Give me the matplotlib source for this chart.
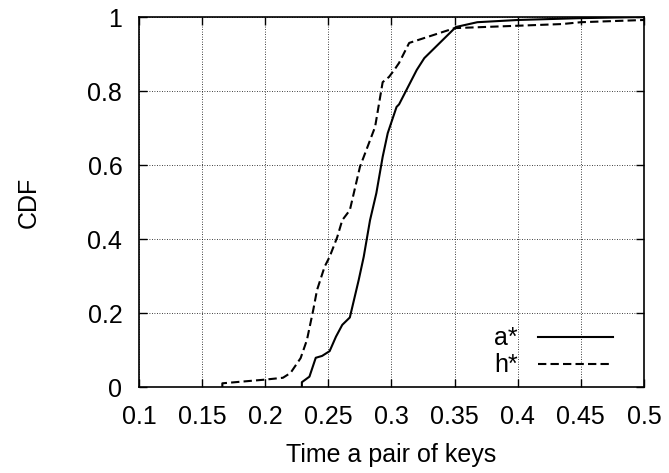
import matplotlib.pyplot as plt
import numpy as np

plt.rcParams['font.family'] = ['Liberation Sans', 'DejaVu Sans']
plt.rcParams['font.size'] = 18

# CDF points
a_x = [0.229, 0.229, 0.235, 0.240, 0.245, 0.251, 0.256, 0.261, 0.267, 0.274, 0.278,
       0.283, 0.288, 0.293, 0.297, 0.304, 0.306, 0.320, 0.326, 0.351, 0.368, 0.400,
       0.450, 0.500]
a_y = [0.0, 0.013, 0.028, 0.079, 0.084, 0.097, 0.136, 0.168, 0.188, 0.289, 0.352,
       0.451, 0.524, 0.622, 0.686, 0.757, 0.764, 0.857, 0.889, 0.973, 0.986, 0.992,
       0.997, 1.0]

h_x = [0.166, 0.166, 0.200, 0.214, 0.220, 0.228, 0.233, 0.238, 0.241, 0.247, 0.251,
       0.257, 0.261, 0.267, 0.275, 0.287, 0.293, 0.298, 0.302, 0.306, 0.314, 0.350,
       0.435, 0.450, 0.500]
h_y = [0.0, 0.010, 0.020, 0.025, 0.038, 0.078, 0.127, 0.208, 0.262, 0.325, 0.352,
       0.405, 0.451, 0.478, 0.595, 0.703, 0.824, 0.838, 0.856, 0.876, 0.930, 0.970,
       0.981, 0.986, 0.992]

x_ticks = [0.1, 0.15, 0.2, 0.25, 0.3, 0.35, 0.4, 0.45, 0.5]
x_labels = ['0.1', '0.15', '0.2', '0.25', '0.3', '0.35', '0.4', '0.45', '0.5']
y_ticks = [0, 0.2, 0.4, 0.6, 0.8, 1]
y_labels = ['0', '0.2', '0.4', '0.6', '0.8', '1']

fig = plt.figure(figsize=(6.69, 4.73), dpi=100)
ax = fig.add_axes([0.2078, 0.1818, 0.7548, 0.7822])

ax.plot(a_x, a_y, color='black', linestyle='-', linewidth=1.5, label='a*')
ax.plot(h_x, h_y, color='black', linestyle=(0, (4, 2)), linewidth=1.5, label='h*')

ax.set_xlim(0.1, 0.5)
ax.set_ylim(0, 1)
ax.set_xticks(x_ticks)
ax.set_xticklabels(x_labels)
ax.set_yticks(y_ticks)
ax.set_yticklabels(y_labels)
ax.tick_params(direction='in', length=6, width=1, top=True, right=True)
ax.tick_params(axis='x', pad=13)
ax.tick_params(axis='y', pad=12)
ax.grid(True, color='black', linestyle=(0, (1, 2)), linewidth=0.6)
for s in ax.spines.values():
    s.set_linewidth(1.2)

ax.set_xlabel('Time a pair of keys', labelpad=10)
ax.set_ylabel('CDF', labelpad=34)

ax.legend(loc='lower right', frameon=False, markerfirst=False, handlelength=3.0,
          handletextpad=0.8, labelspacing=0.12, borderaxespad=0, borderpad=0,
          bbox_to_anchor=(0.9386, 0.026))

fig.savefig('out.png', dpi=100)
